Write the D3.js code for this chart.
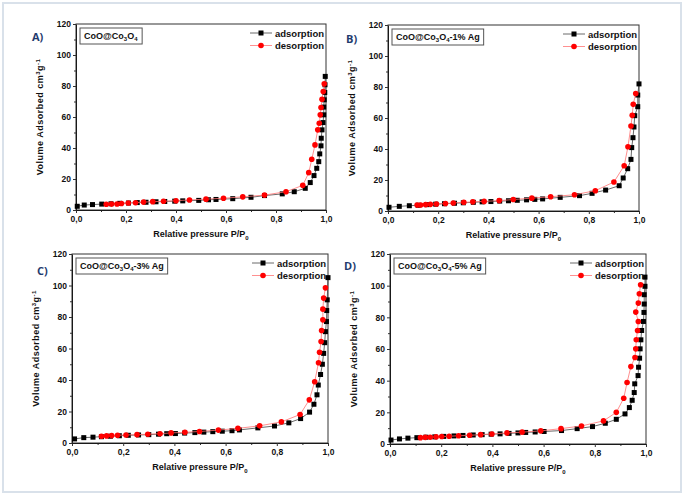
<!DOCTYPE html>
<html><head><meta charset="utf-8">
<script src="https://cdn.jsdelivr.net/npm/d3@7"></script>
<style>body{margin:0;background:#fff}svg{display:block}</style>
</head><body><svg id="c" width="685" height="495"></svg>
<script>
// ---- data ----
const xTicks = [0, 0.2, 0.4, 0.6, 0.8, 1.0];
const yTicks = [0, 20, 40, 60, 80, 100, 120];
const seriesNames = ["adsorption", "desorption"];
const panelLetters = ["A)", "B)", "C)", "D)"];
const sampleSuffix = ["", "-1% Ag", "-3% Ag", "-5% Ag"];

const adsA = [[0.005,2.4],[0.033,3.2],[0.066,3.5],[0.103,3.8],[0.14,4.0],[0.175,4.3],[0.21,4.5],[0.245,4.8],[0.28,5.0],[0.32,5.3],[0.355,5.5],[0.395,5.7],[0.427,5.9],[0.491,6.2],[0.53,6.6],[0.56,6.8],[0.627,7.3],[0.70,8.2],[0.754,9.3],[0.825,10.4],[0.873,11.8],[0.917,14.0],[0.937,17.7],[0.952,22.2],[0.963,26.9],[0.971,31.2],[0.975,36.2],[0.98,41.4],[0.981,46.3],[0.984,51.7],[0.988,56.4],[0.991,61.4],[0.991,66.4],[0.993,71.1],[0.995,75.8],[0.996,80.8],[0.997,86.2]];
const desA = [[0.121,3.7],[0.142,3.8],[0.164,3.9],[0.182,4.2],[0.209,4.5],[0.238,4.7],[0.27,5.1],[0.307,5.4],[0.35,5.6],[0.40,6.0],[0.454,6.5],[0.52,7.0],[0.59,7.6],[0.667,8.5],[0.754,9.6],[0.84,11.8],[0.907,15.9],[0.931,24.1],[0.943,32.7],[0.956,42.0],[0.967,51.7],[0.973,56.0],[0.977,61.4],[0.98,66.1],[0.984,71.5],[0.989,76.5],[0.993,81.4]];

const adsB = [[0.004,2.4],[0.045,3.0],[0.085,3.4],[0.12,3.7],[0.155,4.1],[0.19,4.4],[0.225,4.7],[0.265,5.0],[0.3,5.3],[0.34,5.6],[0.375,5.9],[0.41,6.1],[0.445,6.4],[0.48,6.6],[0.515,6.9],[0.552,7.2],[0.585,7.5],[0.616,7.8],[0.686,8.8],[0.763,9.9],[0.813,11.4],[0.867,13.5],[0.921,16.3],[0.937,21.3],[0.955,27.3],[0.968,33.3],[0.971,40.9],[0.976,47.3],[0.98,54.2],[0.983,61.5],[0.995,67.3],[0.995,74.8],[1.0,82.0]];
const desB = [[0.116,3.8],[0.13,3.9],[0.15,4.1],[0.169,4.3],[0.193,4.5],[0.229,4.8],[0.26,5.2],[0.302,5.6],[0.338,5.9],[0.383,6.2],[0.443,6.7],[0.499,7.4],[0.573,8.3],[0.648,9.2],[0.743,10.5],[0.826,13.1],[0.9,18.7],[0.941,29.2],[0.956,41.5],[0.968,54.8],[0.973,61.7],[0.977,68.8],[0.987,75.8]];

const adsC = [[0.01,2.6],[0.046,3.4],[0.082,3.7],[0.115,4.0],[0.15,4.3],[0.185,4.6],[0.22,4.9],[0.26,5.1],[0.3,5.3],[0.338,5.6],[0.37,5.9],[0.404,6.0],[0.44,6.3],[0.48,6.6],[0.515,6.9],[0.55,7.2],[0.587,7.5],[0.625,7.8],[0.654,8.3],[0.726,9.6],[0.791,10.8],[0.847,12.8],[0.893,15.5],[0.928,19.6],[0.945,24.6],[0.957,30.6],[0.962,36.8],[0.971,43.5],[0.978,50.0],[0.983,56.9],[0.987,63.7],[0.99,70.7],[0.994,77.1],[0.995,84.1],[0.997,90.9],[1.0,105.0]];
const desC = [[0.115,4.3],[0.135,4.5],[0.155,4.7],[0.178,4.9],[0.211,5.1],[0.254,5.3],[0.296,5.6],[0.344,5.9],[0.387,6.4],[0.441,6.8],[0.498,7.3],[0.572,8.2],[0.648,9.3],[0.733,10.9],[0.818,13.4],[0.891,18.1],[0.927,27.4],[0.948,38.9],[0.963,51.0],[0.967,57.6],[0.973,64.4],[0.975,71.4],[0.98,78.2],[0.98,85.0],[0.983,92.0],[0.99,98.5]];

const adsD = [[0.004,2.5],[0.037,3.2],[0.07,3.7],[0.105,4.0],[0.14,4.3],[0.175,4.5],[0.21,4.8],[0.25,5.1],[0.285,5.4],[0.325,5.7],[0.36,5.9],[0.395,6.2],[0.43,6.4],[0.465,6.7],[0.5,7.0],[0.53,7.3],[0.567,7.6],[0.602,7.9],[0.67,8.5],[0.731,9.7],[0.791,11.0],[0.841,13.1],[0.884,15.6],[0.918,19.0],[0.935,23.0],[0.946,27.6],[0.954,32.5],[0.956,38.0],[0.969,43.2],[0.971,48.5],[0.975,54.2],[0.977,60.1],[0.98,65.8],[0.983,71.7],[0.99,77.4],[0.992,83.1],[0.993,88.4],[0.993,94.3],[0.996,99.6],[0.996,105.4]];
const desD = [[0.119,4.0],[0.138,4.2],[0.157,4.3],[0.18,4.5],[0.202,4.7],[0.231,4.9],[0.268,5.2],[0.311,5.5],[0.354,5.9],[0.398,6.3],[0.457,7.0],[0.516,7.5],[0.589,8.3],[0.668,9.7],[0.748,11.4],[0.834,14.6],[0.884,20.0],[0.913,28.9],[0.926,38.8],[0.941,48.9],[0.957,54.6],[0.96,60.1],[0.962,65.8],[0.967,71.7],[0.97,77.4],[0.96,83.3],[0.97,89.0],[0.974,94.9],[0.979,100.6]];

// ---- layout ----
const svg = d3.select("#c");
const FONT = "'Liberation Sans', Arial, sans-serif";
svg.append("rect").attr("x",3).attr("y",3).attr("width",678).attr("height",489)
   .attr("fill","#fff").attr("stroke","#d9e1ea").attr("stroke-width",2);

const layout = [
  {L:76, R:326, T:24, B:210, lx:32, ly:41},
  {L:388, R:639, T:25, B:211, lx:346, ly:43},
  {L:72, R:328, T:254, B:443, lx:37, ly:275},
  {L:390, R:646, T:254, B:444, lx:344, ly:270}
];
const data = [[adsA,desA],[adsB,desB],[adsC,desC],[adsD,desD]];
const fmt = v => d3.format(".1f")(v).replace(".", ",");

layout.forEach((p, i) => {
  const x = d3.scaleLinear().domain([0,1]).range([p.L, p.R]);
  const y = d3.scaleLinear().domain([0,120]).range([p.B, p.T]);
  const g = svg.append("g");

  // minor ticks
  const minorX = d3.range(0.1, 1.0, 0.2);
  const minorY = d3.range(10, 120, 20);
  g.append("g").attr("transform",`translate(0,${p.B})`)
    .call(d3.axisBottom(x).tickValues(minorX).tickSize(2).tickSizeOuter(0).tickFormat(""))
    .call(s=>s.select(".domain").remove());
  g.append("g").attr("transform",`translate(${p.L},0)`)
    .call(d3.axisLeft(y).tickValues(minorY).tickSize(2).tickSizeOuter(0).tickFormat(""))
    .call(s=>s.select(".domain").remove());

  const ax = g.append("g").attr("transform",`translate(0,${p.B})`)
    .call(d3.axisBottom(x).tickValues(xTicks).tickSize(3).tickSizeOuter(0).tickPadding(3).tickFormat(fmt));
  const ay = g.append("g").attr("transform",`translate(${p.L},0)`)
    .call(d3.axisLeft(y).tickValues(yTicks).tickSize(3).tickSizeOuter(0).tickPadding(2));
  [ax, ay].forEach(a => {
    a.selectAll("text").attr("font-family",FONT).attr("font-weight","bold").attr("font-size","8.5px").attr("fill","#111");
  });
  g.selectAll(".tick line").attr("stroke","#333");

  // frame
  g.append("rect").attr("x",p.L).attr("y",p.T).attr("width",p.R-p.L).attr("height",p.B-p.T)
    .attr("fill","none").attr("stroke","#333").attr("stroke-width",1);

  // series
  const line = d3.line().x(d=>x(d[0])).y(d=>y(d[1]));
  const [ads, des] = data[i];
  g.append("path").datum(ads).attr("d",line).attr("fill","none").attr("stroke","#444").attr("stroke-width",0.8);
  g.selectAll(null).data(ads).join("rect")
    .attr("x",d=>x(d[0])-2.5).attr("y",d=>y(d[1])-2.5).attr("width",5).attr("height",5).attr("fill","#000");
  g.append("path").datum(des).attr("d",line).attr("fill","none").attr("stroke","#ff7373").attr("stroke-width",0.8);
  g.selectAll(null).data(des).join("circle")
    .attr("cx",d=>x(d[0])).attr("cy",d=>y(d[1])).attr("r",2.8).attr("fill","#ff0000");

  // axis titles
  const xt = g.append("text").attr("x",(p.L+p.R)/2).attr("y",p.B+27).attr("text-anchor","middle")
    .attr("font-family",FONT).attr("font-weight","bold").attr("font-size","9px").attr("fill","#111");
  xt.append("tspan").text("Relative pressure P/P");
  xt.append("tspan").attr("font-size","6px").attr("dy",2.5).text("0");

  const yt = g.append("text").attr("transform",`translate(${p.L-33},${(p.T+p.B)/2}) rotate(-90)`)
    .attr("text-anchor","middle").attr("font-family",FONT).attr("font-weight","bold")
    .attr("font-size","9px").attr("letter-spacing","0.5px").attr("fill","#111");
  yt.append("tspan").text("Volume Adsorbed cm");
  yt.append("tspan").attr("font-size","6px").attr("dy",-3).text("3");
  yt.append("tspan").attr("dy",3).text("g");
  yt.append("tspan").attr("font-size","6px").attr("dy",-3).text("-1");

  // panel letter
  g.append("text").attr("x",p.lx).attr("y",p.ly).attr("font-family","'Open Sans', sans-serif")
    .attr("font-weight","bold").attr("font-size","11px").attr("fill","#1f3b6e").text(panelLetters[i]);

  // sample box
  const bg = g.append("g");
  const br = bg.append("rect");
  const bt = bg.append("text").attr("x",p.L+8).attr("y",p.T+14.5).attr("font-family",FONT)
    .attr("font-weight","bold").attr("font-size","9px").attr("fill","#111");
  bt.append("tspan").text("CoO@Co");
  bt.append("tspan").attr("font-size","6px").attr("dy",2.5).text("3");
  bt.append("tspan").attr("dy",-2.5).text("O");
  bt.append("tspan").attr("font-size","6px").attr("dy",2.5).text("4");
  bt.append("tspan").attr("dy",-2.5).text(sampleSuffix[i]);
  const bb = bt.node().getBBox();
  br.attr("x",p.L+4).attr("y",p.T+4).attr("width",bb.width+8).attr("height",16)
    .attr("fill","#fff").attr("stroke","#555").attr("stroke-width",1);

  // legend
  const lx0 = p.R - 76;
  seriesNames.forEach((nm, k) => {
    const ly = p.T + 9 + k*12.5;
    g.append("line").attr("x1",lx0).attr("x2",lx0+22).attr("y1",ly).attr("y2",ly)
      .attr("stroke", k ? "#ff7373" : "#444").attr("stroke-width",0.8);
    if (k) g.append("circle").attr("cx",lx0+11).attr("cy",ly).attr("r",2.8).attr("fill","#ff0000");
    else g.append("rect").attr("x",lx0+8.5).attr("y",ly-2.5).attr("width",5).attr("height",5).attr("fill","#000");
    g.append("text").attr("x",lx0+25).attr("y",ly+3.5).attr("font-family",FONT).attr("font-weight","bold")
      .attr("font-size","9.5px").attr("fill","#111").text(nm);
  });
});
</script></body></html>
